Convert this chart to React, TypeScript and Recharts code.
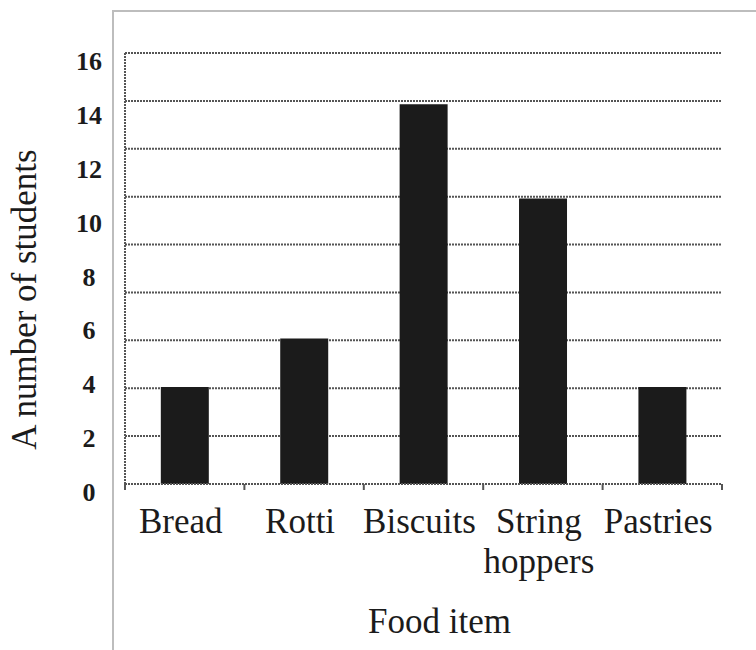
import { BarChart, Bar, XAxis, YAxis, CartesianGrid } from 'recharts';

// values
const categories = ['Bread', 'Rotti', 'Biscuits', 'String hoppers', 'Pastries'];
const students = [3.6, 5.4, 14.1, 10.6, 3.6];
const yTicks = [0, 2, 4, 6, 8, 10, 12, 14, 16];
// the ruled lines on the page: one more than the labelled ticks, 0..18 step 2
const ruleTicks = [0, 2, 4, 6, 8, 10, 12, 14, 16, 18];
const RULE_MAX = 18;

const W = 756;
const H = 650;
const margin = { top: 53, right: 34, left: 0, bottom: 0 };
const Y_AXIS_W = 125;
const X_AXIS_H = 166;
const band = (W - Y_AXIS_W - margin.right) / categories.length;

const serif = '"Liberation Serif", "Times New Roman", serif';
const ink = '#1b1b1b';
const rule = '#555555';

const chartData = categories.map((food, i) => ({ food, students: students[i] }));

function FoodTick(props: any) {
  const { x, y, payload, index } = props;
  const lines = String(payload.value).split(' ');
  return (
    <g>
      <line x1={x - band / 2} x2={x - band / 2} y1={y} y2={y + 6} stroke={rule} strokeWidth={2} />
      {index === categories.length - 1 && (
        <line x1={x + band / 2} x2={x + band / 2} y1={y} y2={y + 6} stroke={rule} strokeWidth={2} />
      )}
      {lines.map((line, i) => (
        <text
          key={line}
          x={x - 4}
          y={y + 49 + i * 40}
          textAnchor="middle"
          fill={ink}
          fontSize={35}
          fontFamily={serif}
        >
          {line}
        </text>
      ))}
    </g>
  );
}

function CountTick(props: any) {
  const { x, y, payload } = props;
  return (
    <text
      x={x - 36}
      y={y + 17}
      textAnchor="middle"
      fill={ink}
      fontSize={26}
      fontWeight="bold"
      fontFamily={serif}
    >
      {payload.value}
    </text>
  );
}

// ruled lines of the paper, spread evenly over the plot height
const ruleLines = ({ offset }: any) =>
  ruleTicks.map((v) => offset.top + offset.height * (1 - v / RULE_MAX));

export default function App() {
  return (
    <div style={{ position: 'absolute', left: 0, top: 0, width: W, height: H, background: '#fff' }}>
      <div
        style={{
          position: 'absolute',
          left: 112,
          top: 10,
          right: 0,
          bottom: 0,
          borderLeft: '2px solid #bdbdbd',
          borderTop: '2px solid #bdbdbd',
        }}
      />
      <BarChart width={W} height={H} data={chartData} margin={margin} barCategoryGap="30%">
        <CartesianGrid
          vertical={false}
          stroke={rule}
          strokeWidth={2}
          strokeDasharray="2 1"
          horizontalCoordinatesGenerator={ruleLines}
        />
        <XAxis
          dataKey="food"
          height={X_AXIS_H}
          interval={0}
          tickLine={false}
          tickSize={0}
          tickMargin={0}
          axisLine={{ stroke: rule, strokeWidth: 2, strokeDasharray: '2 1' }}
          tick={<FoodTick />}
          label={{
            value: 'Food item',
            position: 'insideBottom',
            offset: 17,
            dx: 16,
            fill: ink,
            fontSize: 35,
            fontFamily: serif,
          }}
        />
        <YAxis
          type="number"
          domain={[0, 16]}
          ticks={yTicks}
          width={Y_AXIS_W}
          tickLine={false}
          tickSize={0}
          tickMargin={0}
          axisLine={{ stroke: rule, strokeWidth: 2, strokeDasharray: '2 1' }}
          tick={<CountTick />}
          label={{
            value: 'A number of students',
            angle: -90,
            position: 'insideLeft',
            offset: 24,
            dy: 31,
            fill: ink,
            fontSize: 35,
            fontFamily: serif,
            style: { textAnchor: 'middle' },
          }}
        />
        <Bar dataKey="students" fill={ink} isAnimationActive={false} />
      </BarChart>
    </div>
  );
}
